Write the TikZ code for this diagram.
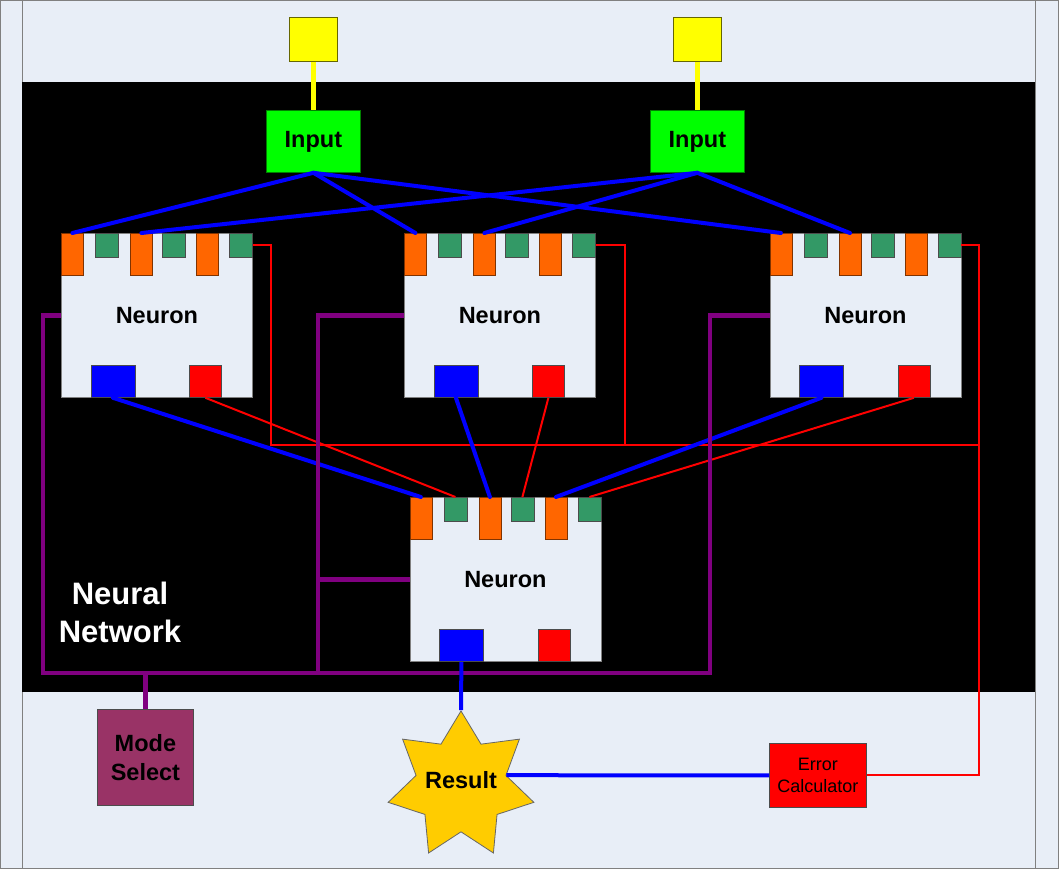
\documentclass[tikz,border=0pt]{standalone}
\usepackage{fontspec}
\setmainfont{Liberation Sans}
\usetikzlibrary{shapes.geometric}
\definecolor{nn@page}{RGB}{232,238,247}
\definecolor{nn@frame}{RGB}{128,128,128}
\definecolor{nn@yellow}{RGB}{255,255,0}
\definecolor{nn@lime}{RGB}{0,255,0}
\definecolor{nn@orange}{RGB}{255,102,0}
\definecolor{nn@green}{RGB}{51,153,102}
\definecolor{nn@blue}{RGB}{0,0,255}
\definecolor{nn@red}{RGB}{255,0,0}
\definecolor{nn@purple}{RGB}{128,0,128}
\definecolor{nn@mode}{RGB}{153,51,102}
\definecolor{nn@star}{RGB}{255,204,0}

\begin{document}
\begin{tikzpicture}[
  x=1pt, y=-1pt,
  box/.style={draw=black!70, line width=0.8pt, inner sep=0pt, anchor=north west},
  neuron/.style={box, draw=gray, fill=nn@page, minimum width=191pt, minimum height=164pt,
    font=\bfseries\fontsize{23.5}{28}\selectfont},
  otab/.style={box, draw=nn@orange!50!black, fill=nn@orange, minimum width=22pt, minimum height=42pt},
  gtab/.style={box, fill=nn@green, minimum width=23pt, minimum height=24pt},
  outsq/.style={box, fill=nn@blue, minimum width=44pt, minimum height=32pt},
  errsq/.style={box, fill=nn@red, minimum width=32pt, minimum height=32pt},
  srcbox/.style={box, draw=black!60!nn@yellow, fill=nn@yellow, minimum width=48pt, minimum height=44pt},
  inbox/.style={box, draw=nn@lime!50!black, fill=nn@lime, minimum width=94pt, minimum height=62pt,
    font=\bfseries\fontsize{23.5}{28}\selectfont},
  bluewire/.style={nn@blue, line width=4pt, line cap=round},
  redwire/.style={nn@red, line width=2pt},
  purplewire/.style={nn@purple, line width=4.5pt},
]
\useasboundingbox (0,0) rectangle (1059,869);

% page
\fill[nn@page] (0,0) rectangle (1059,869);
\draw[nn@frame, line width=1.5pt] (0,0) rectangle (1059,869);
\draw[nn@frame, line width=1pt] (22,0) -- (22,869);
\draw[nn@frame, line width=1pt] (1035,0) -- (1035,869);
\fill[black] (22,82) rectangle (1035,692);

% inputs
\node[srcbox] (srcA) at (289,17) {};
\node[inbox] (inA) at (266,110) {Input};
\node[srcbox] (srcB) at (673,17) {};
\node[inbox] (inB) at (650,110) {Input};

% Neuron top left
\begin{scope}[shift={(61,233)}]
  \node[neuron] (nA) at (0,0) {Neuron};
  \node[otab] (nA-o1) at (0,0) {};
  \node[gtab] (nA-g1) at (34,0) {};
  \node[otab] (nA-o2) at (69,0) {};
  \node[gtab] (nA-g2) at (101,0) {};
  \node[otab] (nA-o3) at (135,0) {};
  \node[gtab] (nA-g3) at (168,0) {};
  \node[outsq] (nA-b) at (29.5,132) {};
  \node[errsq] (nA-r) at (128,132) {};
\end{scope}

% Neuron top middle
\begin{scope}[shift={(404,233)}]
  \node[neuron] (nB) at (0,0) {Neuron};
  \node[otab] (nB-o1) at (0,0) {};
  \node[gtab] (nB-g1) at (34,0) {};
  \node[otab] (nB-o2) at (69,0) {};
  \node[gtab] (nB-g2) at (101,0) {};
  \node[otab] (nB-o3) at (135,0) {};
  \node[gtab] (nB-g3) at (168,0) {};
  \node[outsq] (nB-b) at (29.5,132) {};
  \node[errsq] (nB-r) at (128,132) {};
\end{scope}

% Neuron top right
\begin{scope}[shift={(769.5,233)}]
  \node[neuron] (nC) at (0,0) {Neuron};
  \node[otab] (nC-o1) at (0,0) {};
  \node[gtab] (nC-g1) at (34,0) {};
  \node[otab] (nC-o2) at (69,0) {};
  \node[gtab] (nC-g2) at (101,0) {};
  \node[otab] (nC-o3) at (135,0) {};
  \node[gtab] (nC-g3) at (168,0) {};
  \node[outsq] (nC-b) at (29.5,132) {};
  \node[errsq] (nC-r) at (128,132) {};
\end{scope}

% Neuron output layer
\begin{scope}[shift={(409.5,497)}]
  \node[neuron] (nD) at (0,0) {Neuron};
  \node[otab] (nD-o1) at (0,0) {};
  \node[gtab] (nD-g1) at (34,0) {};
  \node[otab] (nD-o2) at (69,0) {};
  \node[gtab] (nD-g2) at (101,0) {};
  \node[otab] (nD-o3) at (135,0) {};
  \node[gtab] (nD-g3) at (168,0) {};
  \node[outsq] (nD-b) at (29.5,132) {};
  \node[errsq] (nD-r) at (128,132) {};
\end{scope}

\node[white, align=center, font=\bfseries\fontsize{31}{38}\selectfont] (netlabel) at (120,612) {Neural\\Network};

% bottom row
\node[box, fill=nn@mode, minimum width=96pt, minimum height=96pt, align=center,
  font=\bfseries\fontsize{23.5}{29}\selectfont] (mode) at (97,709) {Mode\\Select};
\node[star, star points=7, star point ratio=1.62, minimum size=149.4pt, inner sep=0pt,
  text depth=12pt, draw=black!60, line width=0.8pt, fill=nn@star,
  font=\bfseries\fontsize{23.5}{28}\selectfont] (res) at (461,785.7) {\makebox[0pt]{Result}};
\node[box, fill=nn@red, minimum width=97pt, minimum height=64pt, align=center,
  font=\fontsize{18}{22}\selectfont] (err) at (769,743) {Error\\Calculator};

% input wires
\draw[nn@yellow, line width=5.5pt] (srcA) -- (inA);
\draw[nn@yellow, line width=5.5pt] (srcB) -- (inB);
\draw[bluewire] (inA.south) -- (nA-o1.north);
\draw[bluewire] (inA.south) -- (nB-o1.north);
\draw[bluewire] (inA.south) -- (nC-o1.north);
\draw[bluewire] (inB.south) -- (nA-o2.north);
\draw[bluewire] (inB.south) -- (nB-o2.north);
\draw[bluewire] (inB.south) -- (nC-o2.north);

% error wires
\coordinate (redW) at (271,445);
\coordinate (redM) at (625,445);
\coordinate (redE) at (979,445);
\draw[redwire] (nA-g3.east) -| (redW) -- (redE);
\draw[redwire] (nB-g3.east) -| (redM);
\draw[redwire] (nC-g3.east) -| (redE) -- (redE |- err.east) -- (err.east);
\draw[redwire] (nA-r.south) -- (nD-g1.north);
\draw[redwire] (nB-r.south) -- (nD-g2.north);
\draw[redwire] (nC-r.south) -- (nD-g3.north);

% output wires
\draw[bluewire] (nA-b.south) -- (nD-o1.north);
\draw[bluewire] (nB-b.south) -- (nD-o2.north);
\draw[bluewire] (nC-b.south) -- (nD-o3.north);

% mode bus
\coordinate (busW) at (43,673);
\coordinate (busM) at (318,673);
\coordinate (busE) at (710,673);
\draw[purplewire] (nA.west) -| (busW) -- (busE) |- (nC.west);
\draw[purplewire] (nB.west) -| (busM);
\draw[purplewire] (nD.west) -- (nD.west -| busM);
\draw[purplewire] (mode.north) -- (mode.north |- busW);

% result
\draw[bluewire, line cap=butt] (nD-b.south) -- (res.north);
\draw[bluewire, line cap=butt] (res.13) -- (err.west);

\end{tikzpicture}
\end{document}
